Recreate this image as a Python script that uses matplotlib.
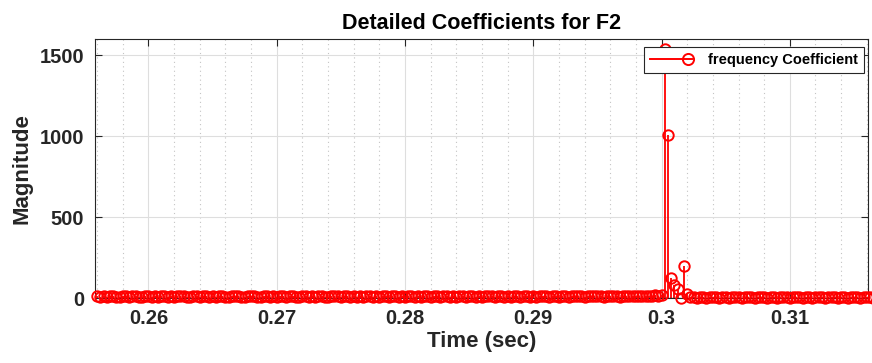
import numpy as np
import matplotlib
matplotlib.use("Agg")
import matplotlib.pyplot as plt
from matplotlib.legend_handler import HandlerBase
from matplotlib.lines import Line2D
from matplotlib.ticker import MultipleLocator

plt.rcParams['font.family'] = ['Liberation Sans', 'DejaVu Sans']
plt.rcParams['font.weight'] = 'bold'

# sampling of the detail band (4 kHz)
t_start = 0.256
dt = 0.00025

# pre-fault coefficients, 0.256 s .. 0.300 s
pre_fault = [
    12, 9, 11, 8, 10, 13, 7, 9, 12, 10, 8, 11, 14, 9, 7, 10, 12, 8, 11, 9,
    13, 10, 8, 12, 9, 11, 15, 10, 7, 9, 12, 11, 8, 10, 13, 9, 11, 8, 10, 12,
    9, 7, 11, 10, 14, 8, 9, 12, 10, 11, 8, 9, 13, 10, 7, 11, 9, 12, 10, 8,
    11, 13, 9, 8, 10, 12, 9, 11, 7, 10, 14, 9, 8, 11, 10, 12, 9, 10, 13, 8,
    10, 9, 12, 8, 11, 10, 7, 13, 9, 10, 11, 8, 12, 10, 9, 14, 8, 10, 11, 9,
    12, 8, 10, 11, 9, 13, 10, 8, 11, 12, 9, 10, 7, 11, 13, 9, 10, 12, 8, 11,
    9, 11, 10, 14, 8, 10, 12, 9, 11, 8, 10, 13, 9, 12, 10, 8, 11, 9, 13, 10,
    11, 9, 12, 10, 8, 11, 13, 9, 10, 12, 14, 10, 9, 11, 12, 10, 13, 11, 9, 12,
    10, 14, 11, 9, 12, 10, 13, 11, 15, 10, 12, 14, 11, 13, 16, 12, 18,
]
# transient right after the fault, 0.30025 s .. 0.302 s
fault_burst = [1540, 1005, 125, 80, 55, 2, 197, 24]
# post-fault coefficients, 0.30225 s .. 0.3165 s
post_fault = [
    4, 4, 3, 4, 4, 3, 4, 4, 4, 3, 4, 4, 3, 4, 4, 4, 3, 4, 4, 4,
    3, 4, 4, 4, 3, 4, 4, 3, 4, 4, 4, 3, 4, 4, 4, 3, 4, 4, 3, 4,
    4, 4, 3, 4, 4, 4, 3, 4, 4, 3, 4, 4, 4, 3, 4, 4, 4, 3,
]

coeffs = np.array(pre_fault + fault_burst + post_fault, dtype=float)
time = t_start + dt * np.arange(len(coeffs))

x_ticks = [0.26, 0.27, 0.28, 0.29, 0.30, 0.31]
x_tick_labels = ['0.26', '0.27', '0.28', '0.29', '0.3', '0.31']
y_ticks = [0, 500, 1000, 1500]


class StemLegendHandler(HandlerBase):
    """Legend entry drawn as a line ending in an open circle."""

    def create_artists(self, legend, orig_handle, xdescent, ydescent,
                       width, height, fontsize, trans):
        y = height / 2 - ydescent
        line = Line2D([-xdescent, width - xdescent], [y, y], color='red', lw=1.4)
        mark = Line2D([width * 0.9 - xdescent], [y], marker='o', ms=8,
                      mfc='none', mec='red', mew=1.4, ls='none')
        line.set_transform(trans)
        mark.set_transform(trans)
        return [line, mark]


fig = plt.figure(figsize=(8.72, 3.63), dpi=100)
ax = fig.add_axes([0.109, 0.179, 0.8865, 0.714])

markers, stems, base = ax.stem(time, coeffs, linefmt='r-', markerfmt='ro', basefmt='k-')
markers.set_markerfacecolor('none')
markers.set_markeredgecolor('red')
markers.set_markersize(7.5)
markers.set_markeredgewidth(1.4)
markers.set_clip_on(False)
markers.set_zorder(4)
stems.set_linewidth(1.3)
base.set_linewidth(0.9)
base.set_color('#262626')

ax.set_xlim(0.25584, 0.3161)
ax.set_ylim(0, 1600)
ax.set_xticks(x_ticks)
ax.set_xticklabels(x_tick_labels)
ax.set_yticks(y_ticks)
ax.xaxis.set_minor_locator(MultipleLocator(0.002))

ax.grid(True, which='major', color='#dedede', lw=0.8)
ax.grid(True, which='minor', axis='x', color='#c4c4c4', lw=0.8, ls=(0, (1, 3)))
ax.set_axisbelow(True)

ax.tick_params(which='major', direction='in', length=5, width=0.8, color='#262626',
               top=True, right=True, labelsize=14.5, labelcolor='#262626', pad=8)
ax.tick_params(which='minor', length=0)
for spine in ax.spines.values():
    spine.set_color('#262626')
    spine.set_linewidth(0.8)

ax.set_xlabel('Time (sec)', fontsize=16, fontweight='bold', color='#262626', labelpad=2)
ax.set_ylabel('Magnitude', fontsize=16, fontweight='bold', color='#262626', labelpad=5)
ax.set_title('Detailed Coefficients for F2', fontsize=15.5, fontweight='bold', pad=7)

proxy = Line2D([], [], color='red')
leg = ax.legend([proxy], ['frequency Coefficient'], loc='upper right',
                bbox_to_anchor=(0.9948, 0.969), handler_map={Line2D: StemLegendHandler()},
                prop={'weight': 'bold', 'size': 10.5}, handlelength=2.9, handletextpad=1.1,
                borderpad=0.4, borderaxespad=0, fancybox=False, framealpha=1)
leg.get_frame().set_edgecolor('#262626')
leg.get_frame().set_linewidth(0.8)

fig.savefig('out.png', dpi=100)
